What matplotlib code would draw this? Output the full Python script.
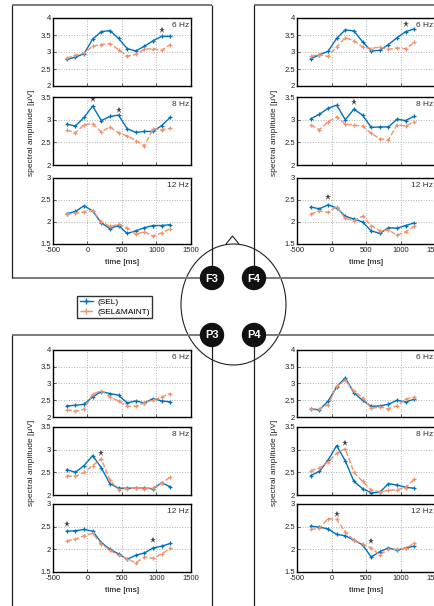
import matplotlib

matplotlib.use("Agg")
import matplotlib.pyplot as plt
from matplotlib.lines import Line2D
from matplotlib.patches import Circle, Ellipse, Polygon

plt.rcParams["font.family"] = ["Liberation Sans", "DejaVu Sans"]
plt.rcParams["axes.unicode_minus"] = False

# time points (ms)
times = [-300, -175, -50, 75, 200, 325, 450, 575, 700, 825, 950, 1075, 1200]
freqs = ["6 Hz", "8 Hz", "12 Hz"]
electrodes = ["F3", "F4", "P3", "P4"]

# F3
f3_6_sel = [2.78, 2.85, 2.95, 3.38, 3.60, 3.63, 3.40, 3.10, 3.03, 3.17, 3.33, 3.46, 3.46]
f3_6_maint = [2.82, 2.90, 2.97, 3.17, 3.22, 3.25, 3.07, 2.88, 2.93, 3.08, 3.10, 3.05, 3.22]
f3_8_sel = [2.90, 2.86, 3.05, 3.30, 2.98, 3.07, 3.10, 2.80, 2.72, 2.74, 2.74, 2.87, 3.05]
f3_8_maint = [2.77, 2.71, 2.89, 2.91, 2.73, 2.84, 2.71, 2.64, 2.54, 2.42, 2.80, 2.78, 2.81]
f3_12_sel = [2.19, 2.24, 2.37, 2.25, 1.98, 1.85, 1.92, 1.74, 1.80, 1.87, 1.92, 1.92, 1.94]
f3_12_maint = [2.18, 2.20, 2.23, 2.26, 2.01, 1.90, 1.95, 1.87, 1.72, 1.78, 1.68, 1.75, 1.85]

# F4
f4_6_sel = [2.80, 2.92, 3.02, 3.40, 3.65, 3.62, 3.30, 3.03, 3.05, 3.22, 3.42, 3.60, 3.68]
f4_6_maint = [2.88, 2.92, 2.87, 3.15, 3.42, 3.33, 3.15, 3.10, 3.15, 3.08, 3.12, 3.10, 3.28]
f4_8_sel = [3.02, 3.12, 3.25, 3.32, 3.00, 3.23, 3.10, 2.83, 2.84, 2.84, 3.01, 2.98, 3.08]
f4_8_maint = [2.88, 2.78, 2.95, 3.06, 2.90, 2.88, 2.86, 2.70, 2.58, 2.55, 2.89, 2.86, 2.95]
f4_12_sel = [2.34, 2.30, 2.39, 2.32, 2.13, 2.07, 2.00, 1.80, 1.74, 1.87, 1.86, 1.92, 1.98]
f4_12_maint = [2.18, 2.25, 2.22, 2.35, 2.08, 2.03, 2.13, 1.92, 1.80, 1.82, 1.70, 1.78, 1.90]

# P3
p3_6_sel = [2.33, 2.35, 2.38, 2.60, 2.76, 2.70, 2.65, 2.42, 2.48, 2.42, 2.55, 2.48, 2.45]
p3_6_maint = [2.22, 2.17, 2.23, 2.68, 2.79, 2.60, 2.48, 2.32, 2.32, 2.43, 2.50, 2.60, 2.70]
p3_8_sel = [2.56, 2.50, 2.65, 2.87, 2.60, 2.25, 2.15, 2.15, 2.15, 2.15, 2.14, 2.27, 2.18]
p3_8_maint = [2.42, 2.41, 2.50, 2.65, 2.80, 2.32, 2.12, 2.14, 2.15, 2.14, 2.16, 2.26, 2.40]
p3_12_sel = [2.40, 2.41, 2.44, 2.40, 2.15, 2.00, 1.90, 1.78, 1.87, 1.92, 2.03, 2.07, 2.13]
p3_12_maint = [2.19, 2.22, 2.30, 2.35, 2.12, 1.98, 1.87, 1.79, 1.70, 1.83, 1.80, 1.90, 2.02]

# P4
p4_6_sel = [2.23, 2.22, 2.47, 2.90, 3.17, 2.72, 2.50, 2.32, 2.33, 2.38, 2.50, 2.45, 2.53]
p4_6_maint = [2.24, 2.24, 2.37, 2.92, 3.10, 2.77, 2.58, 2.26, 2.30, 2.25, 2.33, 2.53, 2.60]
p4_8_sel = [2.43, 2.52, 2.77, 3.09, 2.75, 2.30, 2.14, 2.05, 2.06, 2.25, 2.22, 2.17, 2.15]
p4_8_maint = [2.54, 2.59, 2.73, 2.92, 3.02, 2.50, 2.30, 2.11, 2.07, 2.10, 2.12, 2.16, 2.35]
p4_12_sel = [2.51, 2.49, 2.45, 2.33, 2.30, 2.20, 2.10, 1.83, 1.95, 2.03, 1.98, 2.03, 2.07]
p4_12_maint = [2.44, 2.46, 2.68, 2.66, 2.38, 2.20, 2.12, 2.03, 1.88, 2.00, 2.00, 2.03, 2.13]

# significance stars: (time, height)
f3_stars = [[(1075, 3.66)], [(75, 3.46), (450, 3.22)], []]
f4_stars = [[(1075, 3.83)], [(325, 3.38)], [(-50, 2.56)]]
p3_stars = [[], [(200, 2.93)], [(-300, 2.55), (950, 2.21)]]
p4_stars = [[], [(200, 3.15)], [(75, 2.78), (575, 2.19)]]

ylims = [(2, 4), (2, 3.5), (1.5, 3)]
yticks = [[2, 2.5, 3, 3.5, 4], [2, 2.5, 3, 3.5], [1.5, 2, 2.5, 3]]
xticks = [-500, 0, 500, 1000, 1500]

data = {
    "F3": ([f3_6_sel, f3_8_sel, f3_12_sel], [f3_6_maint, f3_8_maint, f3_12_maint], f3_stars),
    "F4": ([f4_6_sel, f4_8_sel, f4_12_sel], [f4_6_maint, f4_8_maint, f4_12_maint], f4_stars),
    "P3": ([p3_6_sel, p3_8_sel, p3_12_sel], [p3_6_maint, p3_8_maint, p3_12_maint], p3_stars),
    "P4": ([p4_6_sel, p4_8_sel, p4_12_sel], [p4_6_maint, p4_8_maint, p4_12_maint], p4_stars),
}

W, H = 435, 606
BLUE = "#0072BD"
ORANGE = "#F3916A"

fig = plt.figure(figsize=(W / 100, H / 100), dpi=100)


def rect(x, y, w, h):
    return [x / W, 1 - (y + h) / H, w / W, h / H]


# background layer in pixel coordinates: boxes and head
bg = fig.add_axes([0, 0, 1, 1], zorder=0)
bg.set_xlim(0, W)
bg.set_ylim(H, 0)
bg.axis("off")

hcol, vcol = "#7a7a7a", "#222222"
for y0, (xa, xb) in [(5, (12, 212)), (278, (12, 212)), (5, (254, W)), (278, (254, W)),
                     (335, (12, 212)), (335, (254, W))]:
    bg.plot([xa, xb], [y0, y0], color=hcol, lw=1.4, solid_capstyle="butt")
for x0, (ya, yb) in [(12, (5, 278)), (212, (5, 278)), (254, (5, 278)),
                     (12, (335, H)), (212, (335, H)), (254, (335, H))]:
    bg.plot([x0, x0], [ya, yb], color=vcol, lw=0.9, solid_capstyle="butt")

bg.add_patch(Ellipse((233.5, 304.5), 105, 121, fill=False, ec="#222222", lw=0.8))
bg.add_patch(Polygon([[226, 244], [232.5, 236], [239, 244]], closed=False,
                     fill=False, ec="#222222", lw=0.8))
for name, (cx, cy) in zip(electrodes, [(212, 278), (254, 278), (212, 335), (254, 335)]):
    bg.add_patch(Circle((cx, cy), 11.5, color="#111111", zorder=5))
    bg.text(cx, cy + 0.5, name, color="white", fontsize=8, fontweight="bold",
            ha="center", va="center", zorder=6)

panel_x = {"F3": 53, "F4": 297, "P3": 53, "P4": 297}
panel_y = {
    "F3": [(18, 68), (97, 68), (178, 66)],
    "F4": [(18, 68), (97, 68), (178, 66)],
    "P3": [(350, 67), (427, 68), (504, 68)],
    "P4": [(350, 67), (427, 68), (504, 68)],
}

for name in electrodes:
    sel, maint, stars = data[name]
    for i, freq in enumerate(freqs):
        y0, h = panel_y[name][i]
        ax = fig.add_axes(rect(panel_x[name], y0, 138, h), zorder=2)
        ax.plot(times, sel[i], color=BLUE, lw=1.0, marker="+", ms=3.5, mew=0.9)
        ax.plot(times, maint[i], color=ORANGE, lw=1.0, ls="--", marker="+", ms=3.5, mew=0.9)
        for t, v in stars[i]:
            ax.plot(t, v, marker="*", color="#444444", ms=5, mew=0, ls="none")
        ax.set_xlim(-500, 1500)
        ax.set_ylim(*ylims[i])
        ax.set_xticks(xticks)
        ax.set_yticks(yticks[i])
        ax.set_yticklabels([f"{v:g}" for v in yticks[i]])
        if i == 2:
            ax.set_xticklabels([str(v) for v in xticks])
            ax.set_xlabel("time [ms]", fontsize=6, labelpad=3)
        else:
            ax.set_xticklabels([])
        ax.grid(True, ls=":", color="#b0b0b0", lw=0.7)
        ax.tick_params(direction="in", length=2, width=0.5, labelsize=5.5, pad=1.5,
                       colors="#222222")
        ax.tick_params(axis="x", pad=2.5)
        for sp in ax.spines.values():
            sp.set_linewidth(1.0)
        ax.text(0.985, 0.94, freq, transform=ax.transAxes, ha="right", va="top",
                fontsize=6, color="#333333")

# y labels
for x, y in [(32, 133), (275, 133), (32, 463), (275, 463)]:
    fig.text(x / W, 1 - y / H, "spectral amplitude [\u03bcV]", rotation=90,
             ha="center", va="center", fontsize=6, color="#222222")

handles = [
    Line2D([], [], color=BLUE, lw=1.0, marker="+", ms=4),
    Line2D([], [], color=ORANGE, lw=1.0, ls="--", marker="+", ms=4),
]
leg = fig.legend(handles, ["(SEL)", "(SEL&MAINT)"], loc="upper left",
                 bbox_to_anchor=(77 / W, 1 - 296 / H), fontsize=6, frameon=True,
                 fancybox=False, edgecolor="black", borderpad=0.3, handlelength=1.6,
                 handletextpad=0.5, labelspacing=0.2, borderaxespad=0)
leg.get_frame().set_linewidth(1.0)

fig.savefig("out.png", dpi=100)
